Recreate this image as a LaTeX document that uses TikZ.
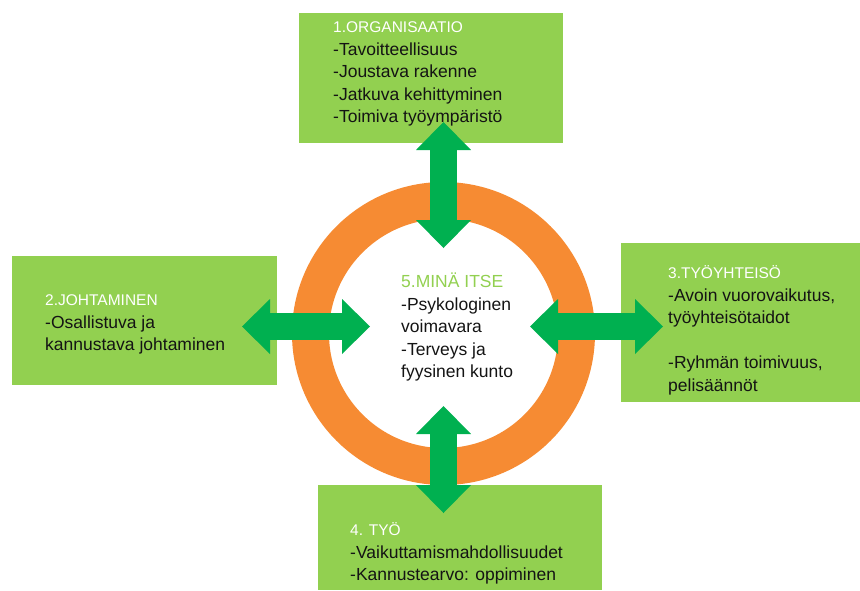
\documentclass[tikz,border=0pt]{standalone}
\usepackage{fontspec}
\setmainfont{Liberation Sans}
\usetikzlibrary{arrows.meta,positioning}

\definecolor{boxgreen}{HTML}{92D050}
\definecolor{arrowgreen}{HTML}{00B050}
\definecolor{ringorange}{HTML}{F68B33}
\definecolor{textdark}{HTML}{141414}

\newcommand\headfont{\fontsize{15.5}{22.5}\selectfont}
\newcommand\firstline{\rule{0pt}{15pt}}

\begin{document}
\begin{tikzpicture}[
    x=1pt,
    y=-1pt,
    area/.style={
      fill=boxgreen,
      anchor=north west,
      inner sep=0pt,
      outer sep=0pt
    },
    listtext/.style={
      anchor=north west,
      inner sep=0pt,
      align=left,
      text=textdark,
      font=\fontsize{17.5}{22.5}\selectfont
    },
    ring/.style={
      circle,
      draw=ringorange,
      line width=37pt,
      minimum size=266pt,
      inner sep=0pt
    },
    fatlink/.style={
      arrowgreen,
      line width=27pt,
      {Triangle[length=28pt,width=55pt,line width=0pt]}-{Triangle[length=28pt,width=55pt,line width=0pt]}
    }
  ]

    \useasboundingbox (0,0) rectangle (860,590);

    % --- Ring in the middle
    \node[ring] (self) at (443.5,333.5) {};

    % --- Boxes round the ring
    \node[area, minimum width=264pt, minimum height=130pt] (org) at (299,13) {};
    \node[area, minimum width=265pt, minimum height=129pt] (lead) at (12,256) {};
    \node[area, minimum width=239pt, minimum height=159pt] (team) at (621,243) {};
    \node[area, minimum width=284pt, minimum height=105pt] (work) at (318,485) {};

    % --- Texts
    \node[listtext] (orgtext) at (333,17.5)
      {\firstline\textcolor{white}{\headfont 1.ORGANISAATIO}\\-Tavoitteellisuus\\-Joustava rakenne\\-Jatkuva kehittyminen\\-Toimiva työympäristö};
    \node[listtext] (leadtext) at (45,290.5)
      {\firstline\textcolor{white}{\headfont 2.JOHTAMINEN}\\-Osallistuva ja\\kannustava johtaminen};
    \node[listtext] (teamtext) at (668,263.5)
      {\firstline\textcolor{white}{\headfont 3.TYÖYHTEISÖ}\\-Avoin vuorovaikutus,\\työyhteisötaidot\\[22.5pt]-Ryhmän toimivuus,\\pelisäännöt};
    \node[listtext] (worktext) at (350,520.5)
      {\firstline\textcolor{white}{\headfont 4. TYÖ}\\-Vaikuttamismahdollisuudet\\-Kannustearvo: oppiminen};
    \node[listtext] (selftext) at (401,272.5)
      {\firstline\textcolor{boxgreen}{5.MINÄ ITSE}\\-Psykologinen\\voimavara\\-Terveys ja\\fyysinen kunto};

    % --- Arrow ends
    \coordinate (orgend) at (443.5,122);
    \coordinate (selftop) at (443.5,248);
    \coordinate (selfbottom) at (443.5,406);
    \coordinate (workend) at (443.5,513);
    \coordinate (leadend) at (242,326.5);
    \coordinate (selfleft) at (370,326.5);
    \coordinate (selfright) at (530,326.5);
    \coordinate (teamend) at (663,326.5);

    % --- Double arrows
    \draw[fatlink] (orgend) -- (selftop);
    \draw[fatlink] (selfbottom) -- (workend);
    \draw[fatlink] (leadend) -- (selfleft);
    \draw[fatlink] (selfright) -- (teamend);

  \end{tikzpicture}
\end{document}
